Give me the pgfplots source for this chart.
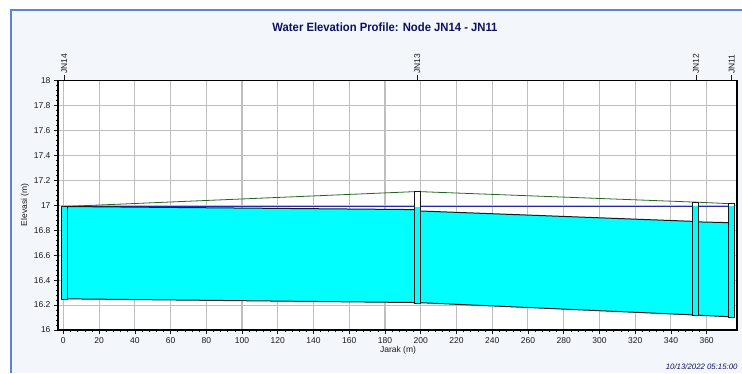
\documentclass[border=0pt]{standalone}
\usepackage{pgfplots}
\pgfplotsset{compat=1.18}
\usepackage{fontspec}
\setmainfont{Liberation Sans}
\newfontfamily\titlefont[FakeStretch=0.94]{Liberation Sans}
\newfontfamily\dateit{Liberation Sans Italic}
\definecolor{panelbg}{RGB}{243,246,251}
\definecolor{panelborder}{RGB}{91,132,214}
\definecolor{navy}{RGB}{16,16,96}
\definecolor{hgl}{RGB}{40,40,170}
\definecolor{ground}{RGB}{40,100,40}
\definecolor{water}{RGB}{0,255,255}
\definecolor{gridc}{RGB}{190,190,190}
\definecolor{outl}{RGB}{25,25,25}
\begin{document}
\begin{tikzpicture}[x=1pt,y=1pt]
\useasboundingbox (0,0) rectangle (742,373);
\fill[white] (0,0) rectangle (742,373);
\fill[panelbg] (11,0) rectangle (742,363);
\draw[panelborder, line width=2pt] (11,0) -- (11,363) -- (742,363);
\begin{axis}[at={(58pt,43pt)}, anchor=south west, scale only axis,
  width=679pt, height=249.5pt,
  xmin=-3, xmax=377, ymin=16, ymax=18,
  xtick={0,20,...,360},
  ytick={16,16.2,16.4,16.6,16.8,17,17.2,17.4,17.6,17.8,18},
  minor x tick num=4, minor y tick num=4,
  grid=major, major grid style={gridc, line width=1.1pt},
  axis line style={black, line width=1.3pt},
  tick align=outside, xtick pos=bottom, ytick pos=left,
  major tick length=4pt, minor tick length=2pt,
  tick style={outl, line width=0.6pt},
  ticklabel style={font=\fontsize{8.5}{9}\selectfont, text=outl},
  /pgf/number format/assume math mode=true,
  axis background/.style={fill=white},
  clip=true]
\addplot[ground, line width=0.8pt] coordinates {(0.5,16.99) (198,17.11) (354,17.025) (374,17.012)};
\addplot[hgl, line width=1pt] coordinates {(0.5,16.988) (374,16.988)};
% conduits
\addplot[fill=water, draw=outl, line width=1pt] coordinates {(0.5,16.25) (198,16.22) (198,16.965) (0.5,16.99)} -- cycle;
\addplot[fill=water, draw=outl, line width=1pt] coordinates {(198,16.22) (354,16.12) (354,16.87) (198,16.955)} -- cycle;
\addplot[fill=water, draw=outl, line width=1pt] coordinates {(354,16.12) (374,16.105) (374,16.86) (354,16.867)} -- cycle;
% nodes
\addplot[fill=water, draw=none] coordinates {(-1.2,16.245) (2.2,16.245) (2.2,16.99) (-1.2,16.99)} -- cycle;
\addplot[draw=outl, line width=1pt] coordinates {(-1.2,16.245) (2.2,16.245) (2.2,16.992) (-1.2,16.992)} -- cycle;
\addplot[fill=white, draw=none] coordinates {(196.3,16.985) (199.7,16.985) (199.7,17.11) (196.3,17.11)} -- cycle;
\addplot[fill=water, draw=none] coordinates {(196.3,16.215) (199.7,16.215) (199.7,16.985) (196.3,16.985)} -- cycle;
\addplot[draw=outl, line width=1pt] coordinates {(196.3,16.215) (199.7,16.215) (199.7,17.11) (196.3,17.11)} -- cycle;
\addplot[fill=white, draw=none] coordinates {(352.3,16.99) (355.7,16.99) (355.7,17.025) (352.3,17.025)} -- cycle;
\addplot[fill=water, draw=none] coordinates {(352.3,16.115) (355.7,16.115) (355.7,16.99) (352.3,16.99)} -- cycle;
\addplot[draw=outl, line width=1pt] coordinates {(352.3,16.115) (355.7,16.115) (355.7,17.025) (352.3,17.025)} -- cycle;
\addplot[fill=white, draw=none] coordinates {(372.3,16.99) (375.7,16.99) (375.7,17.012) (372.3,17.012)} -- cycle;
\addplot[fill=water, draw=none] coordinates {(372.3,16.1) (375.7,16.1) (375.7,16.99) (372.3,16.99)} -- cycle;
\addplot[draw=outl, line width=1pt] coordinates {(372.3,16.1) (375.7,16.1) (375.7,17.012) (372.3,17.012)} -- cycle;
\end{axis}
\begin{axis}[at={(58pt,43pt)}, anchor=south west, scale only axis,
  width=679pt, height=249.5pt,
  xmin=-3, xmax=377, ymin=16, ymax=18,
  axis x line*=top, axis y line=none,
  xtick={0.5,198,354,374}, xticklabels={JN14,JN13,JN12,JN11},
  xticklabel style={rotate=90, anchor=west, inner sep=1.5pt, font=\fontsize{8.5}{9}\selectfont, text=outl},
  tick align=outside, major tick length=5pt,
  xtick style={outl, line width=0.6pt},
  minor x tick num=0,
  axis line style={black, line width=1.3pt}]
\addplot[draw=none] coordinates {(0,16.5)};
\end{axis}
\node[font=\titlefont\bfseries\fontsize{12}{13}\selectfont, text=navy] at (385,346) {Water Elevation Profile: Node JN14 - JN11};
\node[font=\fontsize{8.5}{9}\selectfont, text=outl] at (398,22.3) {Jarak (m)};
\node[rotate=90, font=\fontsize{8.5}{9}\selectfont, text=outl] at (25,168) {Elevasi (m)};
\node[anchor=east, font=\dateit\fontsize{7.8}{8}\selectfont, text=navy] at (741,6.3) {10/13/2022 05:15:00};
\end{tikzpicture}
\end{document}
